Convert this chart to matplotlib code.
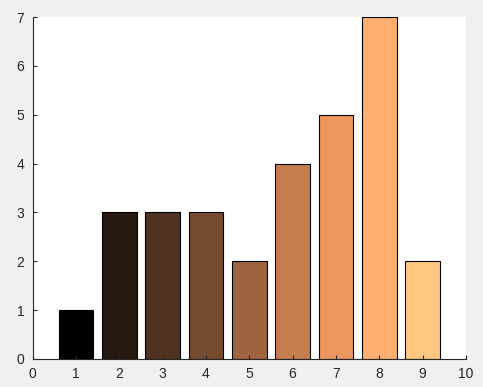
import matplotlib
matplotlib.use("Agg")
import matplotlib.pyplot as plt
import numpy as np

x = [1, 2, 3, 4, 5, 6, 7, 8, 9]
values = [1, 3, 3, 3, 2, 4, 5, 7, 2]
xticks = list(range(0, 11))
yticks = list(range(0, 8))

fig = plt.figure(figsize=(4.83, 3.87), dpi=100, facecolor=(240/255, 240/255, 240/255))
ax = fig.add_axes([0.0673, 0.0724, 0.8975, 0.8836])
ax.set_facecolor("white")

cmap = plt.get_cmap("copper")
colors = [cmap(i / (len(x) - 1)) for i in range(len(x))]
ax.bar(x, values, width=0.8, color=colors, edgecolor="black", linewidth=0.8)

ax.set_xlim(0, 10)
ax.set_ylim(0, 7)
ax.set_xticks(xticks)
ax.set_yticks(yticks)
for s in ["top", "right"]:
    ax.spines[s].set_visible(False)
for s in ["left", "bottom"]:
    ax.spines[s].set_color("#262626")
    ax.spines[s].set_linewidth(0.8)
ax.tick_params(direction="in", length=3, width=0.8, colors="#262626", labelsize=10, pad=6)
for lab in ax.get_xticklabels() + ax.get_yticklabels():
    lab.set_fontfamily("Liberation Sans")

fig.savefig("out.png", dpi=100, facecolor=fig.get_facecolor())
